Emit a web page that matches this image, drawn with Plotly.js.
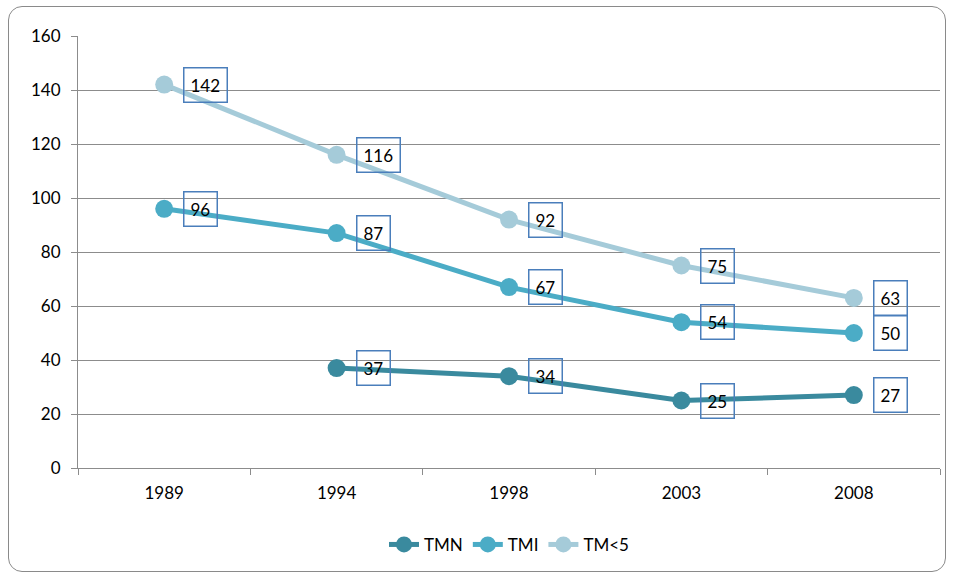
<!DOCTYPE html>
<html><head><meta charset="utf-8">
<script src="https://cdn.plot.ly/plotly-3.0.1.min.js"></script>
<style>
body{margin:0;background:#fff;}
#frame{position:absolute;left:8px;top:6px;width:938px;height:566px;border:1.3px solid #8a8a8a;border-radius:14px;box-sizing:border-box;}
#chart{position:absolute;left:0;top:0;width:956px;height:578px;}
</style></head>
<body>
<div id="frame"></div>
<div id="chart"></div>
<script>
const years = ['1989','1994','1998','2003','2008'];
const tmn = [null, 37, 34, 25, 27];
const tmi = [96, 87, 67, 54, 50];
const tm5 = [142, 116, 92, 75, 63];
const names = ['TMN','TMI','TM<5'];
const colors = ['#3a8a9e','#4bacc6','#a5cbd9'];
const series = [tmn, tmi, tm5];

const traces = series.map(function(s,i){ return {
  x: years, y: s, name: names[i], type:'scatter', mode:'lines+markers',
  line:{color:colors[i], width:5}, marker:{color:colors[i], size:18},
  connectgaps:false, hoverinfo:'skip'
};});

const annotations = [];
for (let i=0;i<series.length;i++){
  const s = series[i];
  for (let j=0;j<s.length;j++){
    const v = s[j];
    if (v===null) continue;
    annotations.push({x:j, y:v, xref:'x', yref:'y', text:String(v),
      showarrow:false, xanchor:'left', yanchor:'middle', xshift:19,
      font:{family:'Lato, sans-serif', size:17, color:'#000000'},
      bordercolor:'#4a7ebb', borderwidth:1.5, borderpad:6});
  }
}

const layout = {
  width:956, height:578,
  margin:{l:78, r:16, t:36, b:110},
  paper_bgcolor:'rgba(0,0,0,0)', plot_bgcolor:'rgba(0,0,0,0)',
  font:{family:'Lato, sans-serif', size:17, color:'#000'},
  showlegend:true,
  legend:{orientation:'h', x:0.5, xanchor:'center', y:-0.178, yanchor:'middle', font:{size:17}},
  xaxis:{type:'category', range:[-0.5,4.5], showgrid:false, showline:true, linecolor:'#8c8c8c', linewidth:1,
    ticks:'outside', tickson:'boundaries', ticklen:6, tickcolor:'#8c8c8c', zeroline:false, fixedrange:true,
    ticklabelstandoff:10},
  yaxis:{range:[0,160], dtick:20, showgrid:true, gridcolor:'#8c8c8c', gridwidth:1, showline:true, linecolor:'#8c8c8c',
    ticks:'outside', ticklen:6, tickcolor:'#8c8c8c', zeroline:false, fixedrange:true, ticklabelstandoff:7},
  annotations: annotations
};
Plotly.newPlot('chart', traces, layout, {displayModeBar:false});
</script>
</body></html>
